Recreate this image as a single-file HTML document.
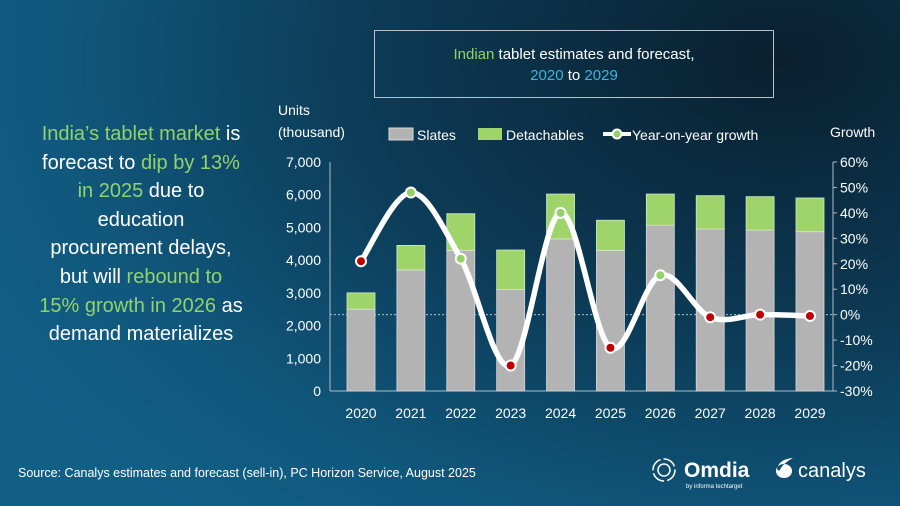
<!DOCTYPE html>
<html><head><meta charset="utf-8">
<style>
html,body{margin:0;padding:0;}
body{width:900px;height:506px;overflow:hidden;position:relative;font-family:"Liberation Sans",sans-serif;
background:radial-gradient(ellipse 900px 600px at 780px 60px,#0a2030 0%,#0c3a55 45%,#10577c 80%,#125f86 100%);}
.g{color:#93d26a}
#lefttext{position:absolute;left:0px;top:120px;width:282px;text-align:center;color:#fff;font-size:20px;line-height:28.6px;white-space:nowrap;}
#titlebox{position:absolute;left:374px;top:30px;width:400px;height:68px;border:1px solid #b8c0c8;box-sizing:border-box;color:#fff;font-size:15px;text-align:center;line-height:21px;padding-top:13px;}
.b{color:#3fb6d8}
#source{position:absolute;left:18px;top:466px;color:#fff;font-size:12.5px;}
svg{position:absolute;left:0;top:0;}
</style></head><body>
<div id="lefttext"><span class="g">India’s tablet market</span> is<br>forecast to <span class="g">dip by 13%</span><br><span class="g">in 2025</span> due to<br>education<br>procurement delays,<br>but will <span class="g">rebound to</span><br><span class="g">15% growth in 2026</span> as<br>demand materializes</div>
<div id="titlebox"><span class="g">Indian</span> tablet estimates and forecast,<br><span class="b">2020</span> to <span class="b">2029</span></div>
<div id="source">Source: Canalys estimates and forecast (sell-in), PC Horizon Service, August 2025</div>
<svg id="chart" width="900" height="506"></svg>
<script>
const years=["2020","2021","2022","2023","2024","2025","2026","2027","2028","2029"];
const slates=[2500,3700,4300,3100,4650,4300,5070,4950,4920,4870];
const detachables=[500,750,1120,1210,1370,920,950,1020,1020,1030];
const growth=[21,48,22,-20,40,-13,15.5,-1,0,-0.5];
const markerColors=["#c00000","#93d26a","#93d26a","#c00000","#93d26a","#c00000","#93d26a","#c00000","#c00000","#c00000"];
const leftTicks=[0,1000,2000,3000,4000,5000,6000,7000];
const rightTicks=[-30,-20,-10,0,10,20,30,40,50,60];

const NS="http://www.w3.org/2000/svg";
const svg=document.getElementById('chart');
const X0=330,X1=833,Y0=391,Y1=162;
const yL=v=>Y0-(v/7000)*(Y0-Y1);
const yR=v=>Y0-((v+30)/90)*(Y0-Y1);
const C0=361,C9=810;
const xC=i=>C0+(C9-C0)*i/(years.length-1);
function mk(t,a,p){const e=document.createElementNS(NS,t);for(const k in a)e.setAttribute(k,a[k]);(p||svg).appendChild(e);return e;}
function txt(s,x,y,anchor,size,name){const e=mk('text',{x:x,y:y,'text-anchor':anchor,'font-size':size,fill:'#fff','font-family':'Liberation Sans, sans-serif'});e.textContent=s;


return e;}
let a=mk('line',{x1:X0,y1:Y1,x2:X0,y2:Y0,stroke:'#b0bcc6','stroke-width':1});


a=mk('line',{x1:X1,y1:Y1,x2:X1,y2:Y0,stroke:'#b0bcc6','stroke-width':1});


a=mk('line',{x1:X0,y1:Y0,x2:X1,y2:Y0,stroke:'#b0bcc6','stroke-width':1});


a=mk('line',{x1:X0,y1:yR(0),x2:X1,y2:yR(0),stroke:'#c8d2da','stroke-width':0.8,'stroke-dasharray':'2,2'});


leftTicks.forEach(v=>{txt(v.toLocaleString('en-US'),321,yL(v)+5,'end',14,'left-tick-label');});
rightTicks.forEach(v=>{txt(v+'%',840,yR(v)+5,'start',14,'right-tick-label');
const t=mk('line',{x1:X1,y1:yR(v),x2:X1+4,y2:yR(v),stroke:'#b0bcc6'});

});
const bw=28;
years.forEach((y,i)=>{
 const x=xC(i)-bw/2;
 let r=mk('rect',{x:x,y:yL(slates[i]),width:bw,height:Y0-yL(slates[i]),fill:'#b3b3b3',stroke:'#d8d8d8','stroke-width':0.8});
 
 
 const tot=slates[i]+detachables[i];
 r=mk('rect',{x:x,y:yL(tot),width:bw,height:yL(slates[i])-yL(tot),fill:'#9fd46a',stroke:'#d8e8c8','stroke-width':0.8});
 
 
 txt(y,xC(i),418,'middle',14,'x-tick-label');
});
const pts=growth.map((g,i)=>[xC(i),yR(g)]);
let d='M'+pts[0][0]+','+pts[0][1];
for(let i=0;i<pts.length-1;i++){
 const p0=pts[i-1]||pts[i],p1=pts[i],p2=pts[i+1],p3=pts[i+2]||p2;
 const c1=[p1[0]+(p2[0]-p0[0])/6,p1[1]+(p2[1]-p0[1])/6];
 const c2=[p2[0]-(p3[0]-p1[0])/6,p2[1]-(p3[1]-p1[1])/6];
 d+=' C'+c1[0]+','+c1[1]+' '+c2[0]+','+c2[1]+' '+p2[0]+','+p2[1];
}
const ln=mk('path',{d:d,fill:'none',stroke:'#fff','stroke-width':5.5,'stroke-linecap':'round'});


pts.forEach((p,i)=>{const c=mk('circle',{cx:p[0],cy:p[1],r:5,fill:markerColors[i],stroke:'#fff','stroke-width':2});

});
txt('Units',278,115,'start',14,'left-axis-title');
txt('(thousand)',278,137,'start',14,'left-axis-title-unit');
txt('Growth',830,137,'start',14,'right-axis-title');
let l=mk('rect',{x:389,y:128,width:24,height:12,fill:'#b3b3b3',stroke:'#d8d8d8'});


txt('Slates',417,140,'start',14,'legend-slates');
l=mk('rect',{x:478,y:128,width:24,height:12,fill:'#9fd46a'});


txt('Detachables',506,140,'start',14,'legend-detachables');
l=mk('line',{x1:603,y1:134,x2:631,y2:134,stroke:'#fff','stroke-width':4});


l=mk('circle',{cx:617,cy:134,r:4.5,fill:'#93d26a',stroke:'#fff','stroke-width':2});


txt('Year-on-year growth',632,140,'start',14,'legend-growth');
const g=mk('g',{});


mk('circle',{cx:664,cy:470,r:11,fill:'none',stroke:'#fff','stroke-width':1.5,'stroke-dasharray':'14,3'},g);
mk('circle',{cx:664,cy:470,r:6,fill:'none',stroke:'#fff','stroke-width':1.5},g);
const o=mk('text',{x:684,y:477,'font-size':21,'font-weight':'bold',fill:'#fff','font-family':'Liberation Sans, sans-serif'},g);o.textContent='Omdia';
const o2=mk('text',{x:686,y:488,'font-size':6,fill:'#fff','font-family':'Liberation Sans, sans-serif'},g);o2.textContent='by informa techtarget';
const g2=mk('g',{});


mk('path',{d:'M776,471 a8,7 0 1 0 16,0 a8,7 0 1 0 -16,0 M777,469 Q779,459 793,458 Q783,463 779,471 Z',fill:'#fff'},g2);
const c=mk('text',{x:798,y:477,'font-size':20,fill:'#fff','font-family':'Liberation Sans, sans-serif'},g2);c.textContent='canalys';
</script>
</body></html>
